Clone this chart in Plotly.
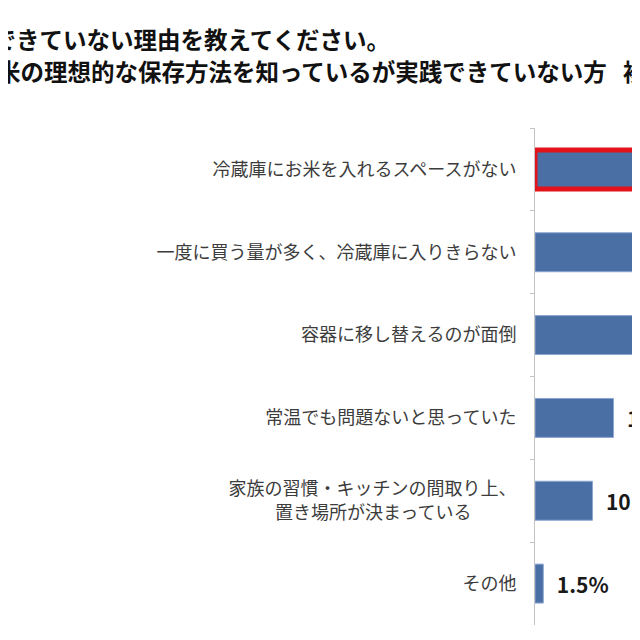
import plotly.graph_objects as go

# visible part of the survey chart (bars 1-3 run off the right edge)
reasons = [
    '冷蔵庫にお米を入れるスペースがない',
    '一度に買う量が多く、冷蔵庫に入りきらない',
    '容器に移し替えるのが面倒',
    '常温でも問題ないと思っていた',
    '家族の習慣・キッチンの間取り上、<br>置き場所が決まっている\u3000\u3000\u2002',
    'その他',
]
shares = [43.5, 35.2, 27.0, 14.2, 10.4, 1.5]
title_line1 = '践できていない理由を教えてください。'
title_line2 = '米の理想的な保存方法を知っているが実践できていない方'
title_tail = '複'

# the page body has an 8px margin, so the figure is drawn 8px in
PAGE_OFF = 8
W, H = 640 - PAGE_OFF, 618
LEFT, TOP = 535 - PAGE_OFF, 128 - PAGE_OFF
BOTTOM = H - (625 - PAGE_OFF)
plot_w = W - LEFT
plot_h = H - TOP - BOTTOM


def px_x(px):
    return (px - PAGE_OFF - LEFT) / plot_w


def px_y(py):
    return 1 - (py - PAGE_OFF - TOP) / plot_h


font = 'Noto Sans CJK JP'
# first bar is highlighted with a thick red frame
line_widths = [5] + [1] * (len(shares) - 1)
line_colors = ['#e3131b'] + ['#8ca6d0'] * (len(shares) - 1)

fig = go.Figure(go.Bar(
    x=shares,
    y=reasons,
    orientation='h',
    marker=dict(color='#4a6fa5', line=dict(width=line_widths, color=line_colors)),
    text=shares,
    texttemplate='\u2002%{x:.1f}%',
    textposition='outside',
    textfont=dict(family=font, size=21, color='#1a1a1a', weight='bold'),
    cliponaxis=True,
))

fig.update_layout(
    width=W, height=H,
    margin=dict(l=LEFT, r=0, t=TOP, b=BOTTOM, autoexpand=False),
    paper_bgcolor='white', plot_bgcolor='white',
    bargap=0.53,
    showlegend=False,
    xaxis=dict(range=[0, 19.0], visible=False, showgrid=False),
    yaxis=dict(
        autorange='reversed',
        showline=True, linecolor='#c4c4c4', linewidth=1,
        ticks='outside', ticklen=4, tickcolor='#c4c4c4', tickson='boundaries',
        ticklabelstandoff=14,
        tickfont=dict(family=font, size=18, color='#3c3c3c'),
        showgrid=False,
    ),
)

title_font = dict(family=font, size=23.5, color='#111111', weight='bold')
fig.add_annotation(text=title_line1, xref='paper', yref='paper',
                   x=px_x(392), y=px_y(39), xanchor='right', yanchor='middle',
                   showarrow=False, font=title_font)
fig.add_annotation(text=title_line2, xref='paper', yref='paper',
                   x=px_x(609), y=px_y(71), xanchor='right', yanchor='middle',
                   showarrow=False, font=title_font)
fig.add_annotation(text=title_tail, xref='paper', yref='paper',
                   x=px_x(621), y=px_y(71), xanchor='left', yanchor='middle',
                   showarrow=False, font=title_font)

fig.write_html('out.html')
